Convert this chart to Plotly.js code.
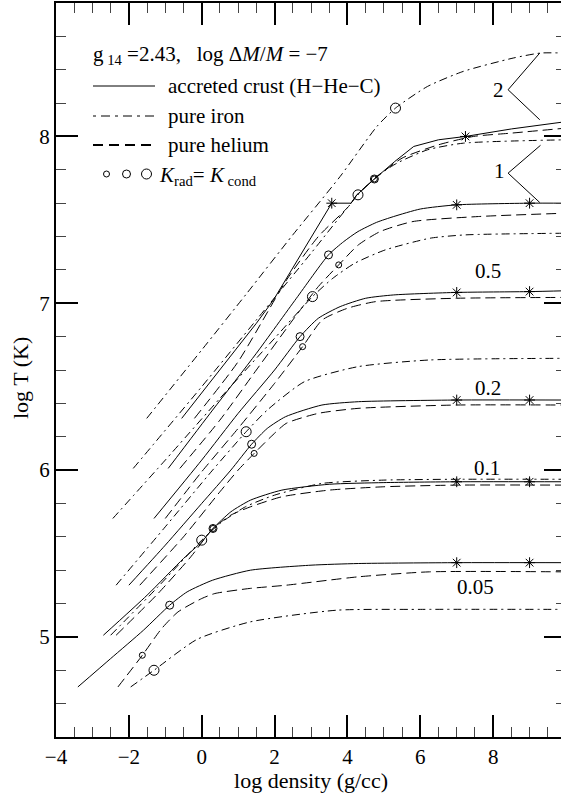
<!DOCTYPE html>
<html>
<head>
<meta charset="utf-8">
<script src="https://cdn.plot.ly/plotly-3.0.1.min.js"></script>
<style>
html,body{margin:0;padding:0;overflow:hidden;background:#fff;}
#chart{width:566px;height:793px;}
</style>
</head>
<body>
<div id="chart"></div>
<script>
// ---- data (log density, log T) ----
const groupLabels = ['2', '1', '0.5', '0.2', '0.1', '0.05'];

// accreted crust (H-He-C), solid
const crust_2_x = [-0.55, 0.5, 1.5, 1.97, 2.8, 3.57, 4.1, 4.26, 4.74, 5.3, 5.82, 6.5, 7.24, 8.5, 9.87, 10];
const crust_2_y = [6.31, 6.6, 6.88, 7.02, 7.32, 7.6, 7.6, 7.65, 7.745, 7.85, 7.94, 7.98, 8.0, 8.045, 8.085, 8.09];
const crust_1_x = [-0.92, 0.3, 1.5, 2.6, 3.48, 3.9, 4.29, 4.8, 5.27, 6.0, 6.99, 9.0, 10];
const crust_1_y = [6.01, 6.36, 6.7, 7.03, 7.29, 7.37, 7.43, 7.485, 7.52, 7.565, 7.59, 7.6, 7.6];
const crust_05_x = [-1.31, 0, 1, 2, 2.7, 3.2, 3.8, 4.5, 5.27, 6.99, 9, 10];
const crust_05_y = [5.71, 6.06, 6.34, 6.6, 6.80, 6.91, 6.98, 7.03, 7.05, 7.065, 7.07, 7.075];
const crust_02_x = [-2.0, -1, 0, 0.8, 1.37, 1.8, 2.3, 3.3, 4.3, 7, 10];
const crust_02_y = [5.31, 5.55, 5.8, 6.0, 6.155, 6.25, 6.32, 6.39, 6.41, 6.42, 6.42];
const crust_01_x = [-2.7, -1.5, -0.5, 0, 0.31, 0.8, 1.34, 2.2, 3.5, 5, 7, 10];
const crust_01_y = [5.01, 5.25, 5.47, 5.57, 5.65, 5.75, 5.82, 5.88, 5.915, 5.925, 5.93, 5.93];
const crust_005_x = [-3.4, -2.5, -1.6, -0.88, -0.4, 0.3, 1.34, 3, 4.3, 7, 10];
const crust_005_y = [4.70, 4.87, 5.04, 5.19, 5.27, 5.34, 5.40, 5.43, 5.44, 5.445, 5.445];

// pure iron, dash-dot
const iron_2_x = [-1.51, 0, 1.24, 2.5, 3.8, 4.81, 5.32, 6.2, 7.18, 8.55, 9.3, 10];
const iron_2_y = [6.31, 6.72, 7.06, 7.41, 7.76, 8.06, 8.17, 8.3, 8.39, 8.47, 8.5, 8.5];
const iron_1_x = [-1.88, 0, 1.5, 3, 4.29, 4.8, 5.36, 6.2, 7.19, 10];
const iron_1_y = [6.01, 6.5, 6.9, 7.3, 7.65, 7.76, 7.84, 7.92, 7.96, 7.98];
const iron_05_x = [-2.44, -1, 0.5, 2, 3.04, 3.6, 4.2, 5.04, 6.27, 7.24, 10];
const iron_05_y = [5.71, 6.06, 6.43, 6.79, 7.04, 7.15, 7.24, 7.32, 7.39, 7.41, 7.42];
const iron_02_x = [-2.35, -1, 0.3, 1.22, 1.8, 2.82, 4.29, 6.25, 10];
const iron_02_y = [5.31, 5.66, 6.0, 6.23, 6.36, 6.53, 6.62, 6.66, 6.67];
const iron_01_x = [-2.5, -1.2, 0, 0.5, 1.2, 2, 3.3, 5, 7, 10];
const iron_01_y = [5.01, 5.3, 5.58, 5.68, 5.78, 5.85, 5.92, 5.94, 5.945, 5.945];
const iron_005_x = [-1.95, -1.31, -0.13, 1.33, 3.7, 6, 10];
const iron_005_y = [4.70, 4.80, 4.985, 5.09, 5.16, 5.165, 5.165];

// pure helium, dashed
const helium_2_x = [-0.2, 1, 2.33, 3.2, 4.03, 4.26, 4.74, 5.5, 6.5, 7.46, 8.5, 10];
const helium_2_y = [6.31, 6.65, 7.14, 7.4, 7.58, 7.65, 7.745, 7.87, 7.95, 8.0, 8.02, 8.05];
const helium_1_x = [-0.6, 0.5, 1.5, 2.5, 3.2, 3.76, 4.3, 4.9, 5.8, 7.6, 10];
const helium_1_y = [6.01, 6.3, 6.6, 6.9, 7.1, 7.23, 7.35, 7.43, 7.49, 7.52, 7.54];
const helium_05_x = [-1.0, 0, 1, 2, 2.77, 3.31, 4.0, 4.78, 6.99, 10];
const helium_05_y = [5.71, 5.99, 6.25, 6.52, 6.74, 6.9, 6.97, 7.01, 7.03, 7.035];
const helium_02_x = [-1.7, -0.5, 0.5, 1.0, 1.44, 1.9, 2.32, 3.2, 4.29, 6.99, 10];
const helium_02_y = [5.31, 5.6, 5.87, 6.0, 6.10, 6.2, 6.28, 6.34, 6.37, 6.39, 6.39];
const helium_01_x = [-2.35, -1.2, -0.3, 0.31, 0.8, 1.34, 2.2, 3.5, 5, 7, 10];
const helium_01_y = [5.01, 5.26, 5.48, 5.65, 5.73, 5.78, 5.84, 5.88, 5.9, 5.91, 5.91];
const helium_005_x = [-2.3, -1.63, -1.1, -0.65, 0, 0.36, 1.3, 2.32, 4.29, 6.25, 10];
const helium_005_y = [4.70, 4.89, 5.05, 5.15, 5.23, 5.26, 5.29, 5.31, 5.36, 5.39, 5.39];

// K_rad = K_cond points
const kcrust_x = [-0.88, 0.31, 1.37, 2.70, 3.48, 4.74];
const kcrust_y = [5.19, 5.65, 6.155, 6.80, 7.29, 7.745];
const khelium_x = [-1.63, 0.31, 1.44, 2.77, 3.76, 4.74];
const khelium_y = [4.89, 5.65, 6.10, 6.74, 7.23, 7.745];
const kiron_x = [-1.31, 0.0, 1.22, 3.04, 4.29, 5.32];
const kiron_y = [4.80, 5.58, 6.23, 7.04, 7.65, 8.17];

// composition boundaries (asterisks) on accreted-crust curves
const star_x = [3.57, 7.24, 7, 9, 7, 9, 7, 9, 7, 9, 7, 9];
const star_y = [7.6, 8.0, 7.59, 7.6, 7.065, 7.07, 6.42, 6.42, 5.93, 5.93, 5.445, 5.445];

// ---- build ----
const FONT = '"Liberation Serif", "Times New Roman", Times, serif';
const DASH_DOT = '8px,4px,2px,4px';
const DASHED = '10px,5px';

function line(x, y, dash) {
  return {x: x, y: y, type: 'scatter', mode: 'lines', showlegend: false, hoverinfo: 'skip',
          line: {color: '#000', width: 1, dash: dash, shape: 'spline', smoothing: 0.6}};
}
const traces = [
  line(crust_2_x, crust_2_y, 'solid'), line(crust_1_x, crust_1_y, 'solid'),
  line(crust_05_x, crust_05_y, 'solid'), line(crust_02_x, crust_02_y, 'solid'),
  line(crust_01_x, crust_01_y, 'solid'), line(crust_005_x, crust_005_y, 'solid'),
  line(iron_2_x, iron_2_y, DASH_DOT), line(iron_1_x, iron_1_y, DASH_DOT),
  line(iron_05_x, iron_05_y, DASH_DOT), line(iron_02_x, iron_02_y, DASH_DOT),
  line(iron_01_x, iron_01_y, DASH_DOT), line(iron_005_x, iron_005_y, DASH_DOT),
  line(helium_2_x, helium_2_y, DASHED), line(helium_1_x, helium_1_y, DASHED),
  line(helium_05_x, helium_05_y, DASHED), line(helium_02_x, helium_02_y, DASHED),
  line(helium_01_x, helium_01_y, DASHED), line(helium_005_x, helium_005_y, DASHED)
];
traces[0].line.shape = 'linear';

function pts(x, y, sym, size) {
  return {x: x, y: y, type: 'scatter', mode: 'markers', showlegend: false, hoverinfo: 'skip',
          marker: {symbol: sym, size: size, color: '#000', line: {color: '#000', width: 1}}};
}
traces.push(pts(khelium_x, khelium_y, 'circle-open', 6));
traces.push(pts(kcrust_x, kcrust_y, 'circle-open', 8));
traces.push(pts(kiron_x, kiron_y, 'circle-open', 10));
traces.push(pts(star_x, star_y, 'asterisk-open', 9));

const px2paperX = p => (p - 56) / 510;
const px2paperY = p => (737 - p) / 734;

const shapes = [];
const annotations = [];
const tfont = {family: FONT, size: 21, color: '#000'};

// legend
const legRows = [
  {y: 86, dash: 'solid', w: 1, text: 'accreted crust (H\u2212He\u2212C)'},
  {y: 116, dash: '3px,5px,9px,5px', w: 1, text: 'pure iron'},
  {y: 145, dash: '10px,6px', w: 2, text: 'pure helium'}
];
legRows.forEach(r => {
  shapes.push({type: 'line', xref: 'paper', yref: 'paper',
    x0: px2paperX(93), x1: px2paperX(155), y0: px2paperY(r.y), y1: px2paperY(r.y),
    line: {color: '#000', width: r.w, dash: r.dash}});
  annotations.push({xref: 'paper', yref: 'paper', x: px2paperX(166), y: px2paperY(r.y),
    xanchor: 'left', yanchor: 'middle', showarrow: false, text: r.text, font: tfont});
});
[[106.5, 3], [126.5, 4], [146.5, 5]].forEach(c => {
  shapes.push({type: 'circle', xref: 'paper', yref: 'paper', xsizemode: 'pixel', ysizemode: 'pixel',
    xanchor: px2paperX(c[0]), yanchor: px2paperY(174), x0: -c[1], x1: c[1], y0: -c[1], y1: c[1],
    line: {color: '#000', width: 1}});
});
annotations.push({xref: 'paper', yref: 'paper', x: px2paperX(157), y: px2paperY(176),
  xanchor: 'left', yanchor: 'middle', showarrow: false,
  text: '<i>K</i><sub>rad</sub>= <i>K</i><sub> cond</sub>', font: tfont});
annotations.push({xref: 'paper', yref: 'paper', x: px2paperX(91), y: px2paperY(55),
  xanchor: 'left', yanchor: 'middle', showarrow: false,
  text: 'g<sub> 14</sub> =2.43,\u00a0\u00a0\u00a0log \u0394<i>M</i>/<i>M</i> = \u22127', font: tfont});

// y-axis title (placed as rotated annotation for exact position)
annotations.push({xref: 'paper', yref: 'paper', x: px2paperX(21), y: px2paperY(378),
  xanchor: 'center', yanchor: 'middle', showarrow: false, textangle: -90,
  text: 'log T (K)', font: {family: FONT, size: 22, color: '#000'}});

// group labels
const labelPos = [[8.14, 8.28], [8.17, 7.79], [7.85, 7.195], [7.87, 6.49], [7.84, 6.01], [7.51, 5.30]];
groupLabels.forEach((t, i) => {
  annotations.push({x: labelPos[i][0], y: labelPos[i][1], xref: 'x', yref: 'y', showarrow: false,
    text: t, font: tfont});
});
// brackets for labels 2 and 1
[[8.41, 8.28, 9.28, 8.50, 9.28, 8.10], [8.41, 7.78, 9.30, 7.947, 9.28, 7.604]].forEach(b => {
  shapes.push({type: 'line', xref: 'x', yref: 'y', x0: b[0], y0: b[1], x1: b[2], y1: b[3], line: {color: '#000', width: 1}});
  shapes.push({type: 'line', xref: 'x', yref: 'y', x0: b[0], y0: b[1], x1: b[4], y1: b[5], line: {color: '#000', width: 1}});
});

const axisCommon = {
  showgrid: false, zeroline: false, showline: true, linecolor: '#000', linewidth: 2,
  mirror: 'ticks', ticks: 'inside', ticklen: 22, tickwidth: 2, tickcolor: '#000',
  tickfont: tfont,
  minor: {ticks: 'inside', ticklen: 10, tickwidth: 1, tickcolor: '#444'}
};

const layout = {
  width: 566, height: 793,
  margin: {l: 56, r: 0, t: 3, b: 56},
  paper_bgcolor: '#fff', plot_bgcolor: '#fff',
  showlegend: false,
  font: {family: FONT, color: '#000'},
  xaxis: Object.assign({}, axisCommon, {
    range: [-4, 10], tick0: 0, dtick: 2, minor: Object.assign({}, axisCommon.minor, {dtick: 0.5}),
    title: {text: 'log density (g/cc)', font: {family: FONT, size: 22, color: '#000'}, standoff: 2}
  }),
  yaxis: Object.assign({}, axisCommon, {
    range: [4.4, 8.8], tick0: 0, dtick: 1, minor: Object.assign({}, axisCommon.minor, {dtick: 0.2})
  }),
  shapes: shapes,
  annotations: annotations
};

Plotly.newPlot('chart', traces, layout, {staticPlot: true, displayModeBar: false});
</script>
</body>
</html>
